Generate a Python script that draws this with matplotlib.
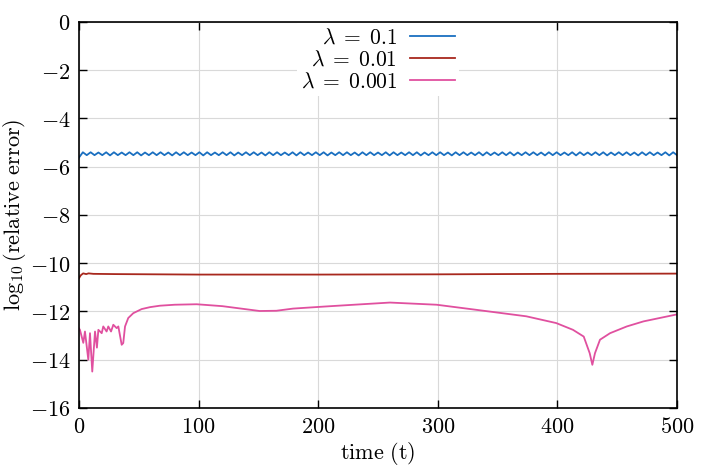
import numpy as np
import matplotlib
matplotlib.use("Agg")
import matplotlib.pyplot as plt

# lambda = 0.1 : small wiggle, peaks and troughs
blue_vals = [
    -5.62,
    -5.40, -5.52, -5.40, -5.52, -5.41, -5.52, -5.40, -5.53, -5.40, -5.52,
    -5.41, -5.52, -5.40, -5.52, -5.40, -5.53, -5.41, -5.52, -5.40, -5.52,
    -5.40, -5.52, -5.41, -5.53, -5.40, -5.52, -5.40, -5.52, -5.41, -5.52,
    -5.40, -5.53, -5.40, -5.52, -5.41, -5.52, -5.40, -5.52, -5.40, -5.53,
    -5.41, -5.52, -5.40, -5.52, -5.40, -5.52, -5.41, -5.53, -5.40, -5.52,
    -5.40, -5.52, -5.41, -5.52, -5.40, -5.53, -5.40, -5.52, -5.41, -5.52,
    -5.40, -5.52, -5.40, -5.53, -5.41, -5.52, -5.40, -5.52, -5.40, -5.52,
    -5.41, -5.53, -5.40, -5.52, -5.40, -5.52, -5.41, -5.52, -5.40, -5.53,
    -5.40, -5.52, -5.41, -5.52, -5.40, -5.52, -5.40, -5.53, -5.41, -5.52,
    -5.40, -5.52, -5.40, -5.52, -5.41, -5.53, -5.40, -5.52, -5.40, -5.52,
    -5.41, -5.52, -5.40, -5.53, -5.40, -5.52, -5.41, -5.52, -5.40, -5.52,
    -5.40, -5.53, -5.41, -5.52, -5.40, -5.52, -5.40, -5.52, -5.41, -5.53,
    -5.40, -5.52, -5.40, -5.52, -5.41, -5.52, -5.40, -5.53, -5.40, -5.52,
    -5.41, -5.52, -5.40, -5.52, -5.40, -5.53, -5.41, -5.52, -5.40, -5.52,
    -5.40, -5.52, -5.41, -5.53, -5.40, -5.52, -5.40, -5.52, -5.41, -5.52,
    -5.40, -5.53, -5.40, -5.52,
]
blue_t = np.linspace(0, 500, len(blue_vals))

# lambda = 0.01
red_t = [0, 1.5, 3.5, 6, 8, 12, 30, 100, 200, 300, 400, 500]
red_vals = [-10.62, -10.50, -10.42, -10.45, -10.42, -10.44, -10.45,
            -10.47, -10.47, -10.46, -10.44, -10.43]

# lambda = 0.001
pink_t = [0, 0.8, 3.6, 5, 7.8, 9.2, 11.1, 13.4, 15, 16.2, 19, 20.3, 23.1,
          24.5, 26.8, 28.7, 31.5, 32.9, 35.7, 37, 38.5, 41.2, 45.4, 52.4,
          59.4, 67.7, 80, 98.4, 120, 151, 165, 179, 207, 230, 260, 299,
          332, 374, 399, 413, 422, 427, 429.2, 431.4, 435.6, 444, 458,
          472, 500]
pink_vals = [-12.70, -12.76, -13.30, -12.83, -14.00, -12.90, -14.49, -12.83,
             -13.50, -12.76, -12.90, -12.62, -12.83, -12.62, -12.83, -12.55,
             -12.69, -12.62, -13.38, -13.31, -12.62, -12.27, -12.07, -11.90,
             -11.82, -11.76, -11.72, -11.70, -11.78, -11.98, -11.97, -11.88,
             -11.79, -11.72, -11.63, -11.72, -11.93, -12.20, -12.48, -12.76,
             -13.04, -13.73, -14.21, -13.73, -13.17, -12.90, -12.62, -12.41,
             -12.12]

labels = [r"$\lambda\;=\;0.1$", r"$\lambda\;=\;0.01$", r"$\lambda\;=\;0.001$"]
xticks = [0, 100, 200, 300, 400, 500]
yticks = [0, -2, -4, -6, -8, -10, -12, -14, -16]

plt.rcParams["mathtext.fontset"] = "cm"
plt.rcParams["font.family"] = "serif"
plt.rcParams["font.serif"] = ["DejaVu Serif"]

fig = plt.figure(figsize=(7.09, 4.71), dpi=100)
ax = fig.add_axes([0.1114, 0.1338, 0.8435, 0.8195])

ax.plot(blue_t, blue_vals, color="#1a6fc0", lw=1.3, label=labels[0])
ax.plot(red_t, red_vals, color="#a8281e", lw=1.3, label=labels[1])
ax.plot(pink_t, pink_vals, color="#e0509f", lw=1.3, label=labels[2])

ax.set_xlim(0, 500)
ax.set_ylim(-16, 0)
ax.set_xticks(xticks, [f"${v}$" for v in xticks])
ax.set_yticks(yticks, [f"${v}$" for v in yticks])
ax.tick_params(direction="in", length=6, width=1, top=True, right=True,
               labelsize=16, pad=6)
ax.grid(True, color="#d9d9d9", lw=0.8)
ax.set_axisbelow(True)
for s in ax.spines.values():
    s.set_linewidth(1.2)

ax.set_xlabel(r"$\mathrm{time\ (t)}$", fontsize=16, labelpad=1)
ax.set_ylabel(r"$\log_{10}(\mathrm{relative\ error})$", fontsize=16, labelpad=1)

leg = ax.legend(loc="upper center", markerfirst=False, fontsize=15.5,
                frameon=True, framealpha=1, facecolor="white",
                edgecolor="none", fancybox=False, borderpad=0.15,
                labelspacing=0.0, handlelength=2.1, handletextpad=0.6,
                borderaxespad=0.05)
leg.get_frame().set_linewidth(0)

fig.savefig("out.png", dpi=100)
